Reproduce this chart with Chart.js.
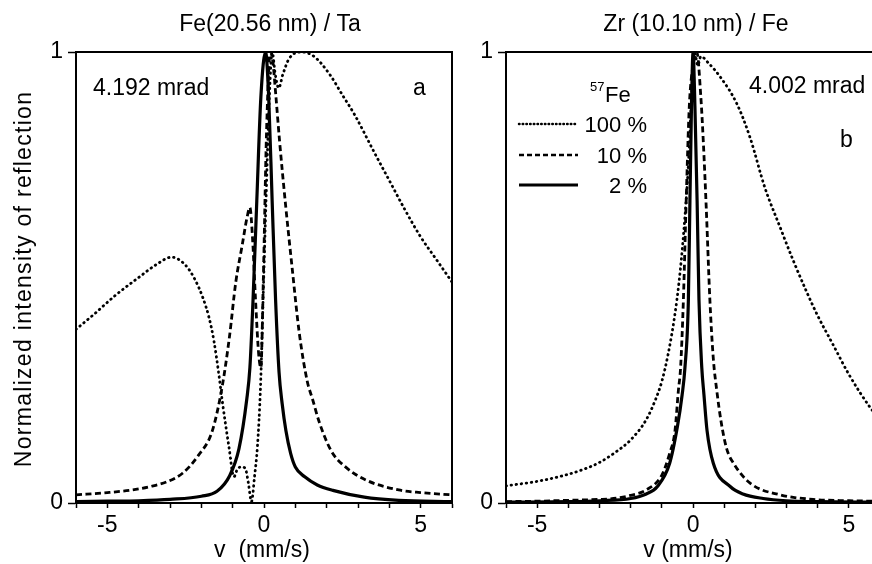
<!DOCTYPE html>
<html>
<head>
<meta charset="utf-8">
<script src="https://cdn.jsdelivr.net/npm/chart.js@4.4.1/dist/chart.umd.min.js"></script>
<style>
  html, body { margin: 0; padding: 0; background: #fff; }
  #wrap { position: relative; width: 872px; height: 564px; overflow: hidden; }
  canvas { position: absolute; top: 0; }
</style>
</head>
<body>
<div id="wrap">
  <canvas id="chartA" width="462" height="564" style="left:0px"></canvas>
  <canvas id="chartB" width="432" height="564" style="left:440px"></canvas>
</div>
<script>
// ===== DATA =====
const seriesLabels = ['100 %', '10 %', '2 %'];
const isotopeLabel = ['57', 'Fe'];

// panel a : Fe(20.56 nm) / Ta , 4.192 mrad
const aV100 = [-6, -5.4, -4.75, -4, -3.45, -2.95, -2.5, -2.2, -1.95, -1.75, -1.6, -1.45, -1.33, -1.12, -0.96, -0.85, -0.72, -0.6, -0.5, -0.4, -0.3, -0.21, -0.11, -0.03, 0.06, 0.16, 0.26, 0.36, 0.47, 0.6, 0.8, 1.2, 1.6, 2.1, 2.5, 2.9, 3.5, 4.0, 4.5, 5.0, 5.5, 6];
const aI100 = [0.385, 0.42, 0.46, 0.5, 0.528, 0.545, 0.527, 0.495, 0.455, 0.41, 0.36, 0.29, 0.225, 0.125, 0.058, 0.075, 0.08, 0.077, 0.045, 0.003, 0.06, 0.125, 0.26, 0.45, 0.66, 0.88, 1.0, 0.95, 0.92, 0.95, 0.985, 1.0, 0.99, 0.95, 0.905, 0.86, 0.78, 0.715, 0.65, 0.59, 0.54, 0.49];
const aV10 = [-6, -5, -4.2, -3.6, -3.1, -2.6, -2.1, -1.65, -1.33, -1.1, -0.9, -0.7, -0.55, -0.45, -0.36, -0.27, -0.17, -0.1, -0.02, 0.08, 0.2, 0.28, 0.37, 0.5, 0.69, 0.9, 1.12, 1.38, 1.55, 1.76, 2.15, 2.6, 3.25, 4.3, 5.0, 6];
const aI10 = [0.018, 0.023, 0.029, 0.037, 0.047, 0.066, 0.105, 0.16, 0.26, 0.37, 0.49, 0.57, 0.63, 0.655, 0.58, 0.45, 0.33, 0.3, 0.5, 0.82, 1.0, 0.98, 0.91, 0.8, 0.66, 0.52, 0.38, 0.27, 0.23, 0.18, 0.115, 0.08, 0.051, 0.029, 0.023, 0.018];
const aV2 = [-6, -5, -4, -3, -2, -1.5, -1.1, -0.8, -0.55, -0.45, -0.35, -0.23, -0.1, 0.05, 0.15, 0.26, 0.37, 0.48, 0.58, 0.7, 0.85, 1.0, 1.3, 1.7, 2.2, 3.2, 4.3, 6];
const aI2 = [0.003, 0.004, 0.005, 0.008, 0.015, 0.026, 0.06, 0.12, 0.23, 0.3, 0.45, 0.67, 0.9, 1.0, 0.9, 0.67, 0.45, 0.29, 0.22, 0.16, 0.11, 0.08, 0.058, 0.04, 0.028, 0.013, 0.006, 0.003];

// panel b : Zr(10.10 nm) / Fe , 4.002 mrad
const bV100 = [-6, -5, -4.2, -3.5, -3, -2.5, -2, -1.5, -1.2, -1, -0.8, -0.6, -0.45, -0.3, -0.15, -0.05, 0.05, 0.15, 0.25, 0.5, 0.87, 1.4, 1.83, 2.3, 2.8, 3.2, 3.6, 4.0, 4.5, 5.0, 5.7, 6];
const bI100 = [0.038, 0.048, 0.06, 0.075, 0.09, 0.112, 0.14, 0.185, 0.23, 0.27, 0.33, 0.41, 0.49, 0.6, 0.75, 0.9, 1.0, 0.97, 0.99, 0.975, 0.945, 0.886, 0.81, 0.7, 0.61, 0.54, 0.475, 0.415, 0.35, 0.285, 0.21, 0.185];
const bV10 = [-6, -5, -4, -3, -2.55, -2, -1.5, -1, -0.75, -0.58, -0.47, -0.4, -0.31, -0.22, -0.12, 0.0, 0.12, 0.25, 0.33, 0.42, 0.54, 0.65, 0.76, 0.9, 1.08, 1.3, 1.83, 2.8, 3.85, 5, 6];
const bI10 = [0.003, 0.004, 0.006, 0.008, 0.01, 0.017, 0.029, 0.062, 0.11, 0.16, 0.25, 0.3, 0.45, 0.67, 0.88, 0.97, 1.0, 0.9, 0.8, 0.66, 0.45, 0.32, 0.25, 0.18, 0.12, 0.088, 0.044, 0.018, 0.008, 0.005, 0.004];
const bV2 = [-6, -4, -3, -2, -1.5, -1.15, -0.75, -0.5, -0.35, -0.26, -0.15, -0.1, -0.05, 0, 0.06, 0.13, 0.19, 0.28, 0.35, 0.45, 0.65, 1.2, 1.6, 2.25, 3, 4, 6];
const bI2 = [0.002, 0.003, 0.005, 0.01, 0.02, 0.036, 0.088, 0.17, 0.24, 0.3, 0.45, 0.67, 0.88, 1.0, 0.88, 0.67, 0.45, 0.3, 0.24, 0.16, 0.088, 0.036, 0.02, 0.01, 0.005, 0.003, 0.002];

const xTicksShown = [-5, 0, 5];

// ===== STYLE =====
const FONT = "'Liberation Sans', Arial, Helvetica, sans-serif";
const styles = [
  { borderWidth: 2.8, borderDash: [0.5, 4.6], borderCapStyle: 'round' },  // 100 %
  { borderWidth: 2.8, borderDash: [6, 3.5], borderCapStyle: 'butt' },     // 10 %
  { borderWidth: 3.2, borderDash: [], borderCapStyle: 'butt' }            // 2 %
];

function pts(xs, ys) {
  return xs.map((x, i) => ({ x: x, y: ys[i] }));
}

function makeDatasets(list) {
  return list.map((d, i) => Object.assign({
    label: seriesLabels[i],
    data: pts(d[0], d[1]),
    borderColor: '#000',
    backgroundColor: '#000',
    pointRadius: 0,
    fill: false,
    cubicInterpolationMode: 'monotone'
  }, styles[i]));
}

function makeScales(xMax, yWidth) {
  return {
    x: {
      type: 'linear', min: -6, max: xMax,
      afterFit: s => { s.height = 61; },
      ticks: {
        stepSize: 1, includeBounds: false, autoSkip: false, maxRotation: 0, padding: 4,
        color: '#000', font: { family: FONT, size: 23 },
        callback: v => (xTicksShown.includes(v) ? String(v) : '')
      },
      grid: { drawOnChartArea: false, drawTicks: true, tickLength: 5, tickWidth: 1.5, tickColor: '#000' },
      border: { display: true, color: '#000', width: 2 }
    },
    y: {
      type: 'linear', min: 0, max: 1,
      afterFit: s => { s.width = yWidth; },
      ticks: {
        stepSize: 1, padding: 5, color: '#000', font: { family: FONT, size: 23 },
        callback: v => String(v)
      },
      grid: { drawOnChartArea: false, drawTicks: true, tickLength: 8, tickWidth: 1.5, tickColor: '#000' },
      border: { display: true, color: '#000', width: 2 }
    }
  };
}

// texte et cadre
function deco(texts, frameRight, legend) {
  return {
    id: 'deco',
    afterDatasetsDraw(chart) {
      const ctx = chart.ctx, a = chart.chartArea;
      ctx.save();
      ctx.strokeStyle = '#000';
      ctx.lineWidth = 2;
      ctx.beginPath();
      ctx.moveTo(a.left, a.top);
      ctx.lineTo(a.right, a.top);
      if (frameRight) ctx.lineTo(a.right, a.bottom);
      ctx.stroke();
      ctx.restore();
    },
    afterDraw(chart) {
      const ctx = chart.ctx;
      ctx.save();
      ctx.fillStyle = '#000';
      ctx.textBaseline = 'alphabetic';
      texts.forEach(t => {
        ctx.save();
        ctx.font = (t.size || 23) + 'px ' + FONT;
        ctx.textAlign = t.align || 'left';
        if (t.spacing) ctx.letterSpacing = t.spacing;
        ctx.translate(t.x, t.y);
        if (t.rot) ctx.rotate(t.rot);
        ctx.fillText(t.text, 0, 0);
        ctx.restore();
      });
      if (legend) {
        ctx.font = '13px ' + FONT;
        ctx.textAlign = 'left';
        ctx.fillText(isotopeLabel[0], 150, 91);
        ctx.font = '22px ' + FONT;
        ctx.fillText(isotopeLabel[1], 165, 102);
        const rows = [124, 155, 185];
        const sampleDash = [[0.5, 3.2], [5, 3], []];
        chart.data.datasets.forEach((ds, i) => {
          ctx.save();
          ctx.lineWidth = i === 2 ? 3 : 2.5;
          ctx.lineCap = ds.borderCapStyle;
          ctx.setLineDash(sampleDash[i]);
          ctx.beginPath();
          ctx.moveTo(79, rows[i]);
          ctx.lineTo(138, rows[i]);
          ctx.stroke();
          ctx.restore();
          ctx.textAlign = 'right';
          ctx.fillText(ds.label, 207, rows[i] + 8);
        });
      }
      ctx.restore();
    }
  };
}

const common = {
  type: 'line',
  options: {
    responsive: false,
    animation: false,
    events: [],
    plugins: { legend: { display: false }, tooltip: { enabled: false }, title: { display: false } }
  }
};

new Chart(document.getElementById('chartA'), {
  type: 'line',
  data: { datasets: makeDatasets([[aV100, aI100], [aV10, aI10], [aV2, aI2]]) },
  options: Object.assign({}, common.options, {
    layout: { padding: { top: 52, right: 10, left: 0, bottom: 0 } },
    scales: makeScales(6, 76)
  }),
  plugins: [deco([
    { text: 'Fe(20.56 nm) / Ta', x: 270, y: 31, align: 'center' },
    { text: '4.192 mrad', x: 93, y: 95 },
    { text: 'a', x: 413, y: 95 },
    { text: 'v  (mm/s)', x: 262, y: 557, align: 'center' },
    { text: 'Normalized intensity of reflection', x: 31, y: 279, align: 'center', rot: -Math.PI / 2, spacing: '1.3px' }
  ], true, false)]
});

new Chart(document.getElementById('chartB'), {
  type: 'line',
  data: { datasets: makeDatasets([[bV100, bI100], [bV10, bI10], [bV2, bI2]]) },
  options: Object.assign({}, common.options, {
    layout: { padding: { top: 52, right: 0, left: 0, bottom: 0 } },
    scales: makeScales(5.74, 66)
  }),
  plugins: [deco([
    { text: 'Zr (10.10 nm) / Fe', x: 256, y: 31, align: 'center' },
    { text: '4.002 mrad', x: 309, y: 93 },
    { text: 'b', x: 400, y: 147 },
    { text: 'v (mm/s)', x: 248, y: 557, align: 'center' }
  ], false, true)]
});
</script>
</body>
</html>
